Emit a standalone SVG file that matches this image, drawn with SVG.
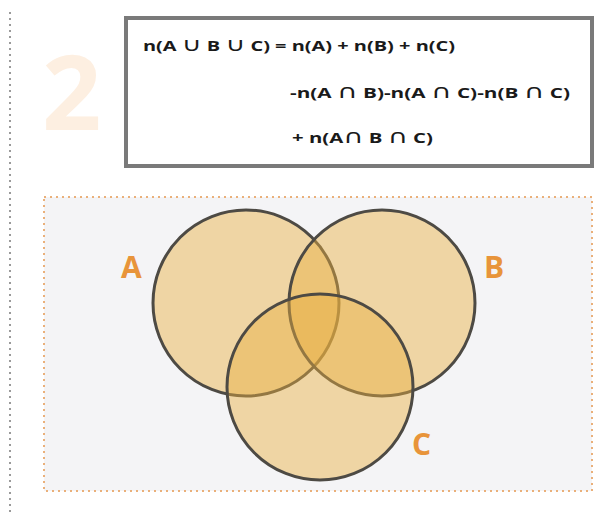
<svg xmlns="http://www.w3.org/2000/svg" width="598" height="518" viewBox="0 0 598 518">
<style>
.f{font-family:"Open Sans","Liberation Sans","DejaVu Sans",sans-serif;font-weight:700;font-size:14px;fill:#1a1a1a}
.s{font-family:"DejaVu Sans",sans-serif;font-weight:400;font-size:19px}
.lbl{font-family:"Open Sans","Liberation Sans",sans-serif;font-weight:700;font-size:30px;fill:#e8943a}
.set{fill:#e8b040;fill-opacity:0.45;stroke:#4d4a44;stroke-width:3}
</style>
<rect width="598" height="518" fill="#ffffff"/>
<line x1="10" y1="12" x2="10" y2="512" stroke="#9a9a9a" stroke-width="2" stroke-dasharray="2 4"/>
<text x="42" y="130" font-family="'Open Sans','Liberation Sans',sans-serif" font-weight="700" font-size="104" fill="#fdefe1">2</text>
<g id="formula">
<rect x="126" y="18" width="466" height="148" fill="#ffffff" stroke="#7a7a7a" stroke-width="4"/>
<text class="f" x="143" y="51" textLength="312" lengthAdjust="spacingAndGlyphs">n(A <tspan class="s">∪</tspan> B <tspan class="s">∪</tspan> C) = n(A) + n(B) + n(C)</text>
<text class="f" x="290" y="98" textLength="280" lengthAdjust="spacingAndGlyphs">-n(A <tspan class="s">∩</tspan> B)-n(A <tspan class="s">∩</tspan> C)-n(B <tspan class="s">∩</tspan> C)</text>
<text class="f" x="292" y="143" textLength="141" lengthAdjust="spacingAndGlyphs">+ n(A<tspan class="s">∩</tspan> B <tspan class="s">∩</tspan> C)</text>
</g>
<rect x="44" y="197" width="548" height="294" fill="#f4f4f6" stroke="#eab07a" stroke-width="2" stroke-dasharray="2 4"/>
<g id="A"><circle class="set" cx="246" cy="303" r="93"/><text class="lbl" x="121" y="278">A</text></g>
<g id="B"><circle class="set" cx="382" cy="303" r="93"/><text class="lbl" x="484" y="278">B</text></g>
<g id="C"><circle class="set" cx="320" cy="387" r="93"/><text class="lbl" x="412" y="455">C</text></g>
</svg>
